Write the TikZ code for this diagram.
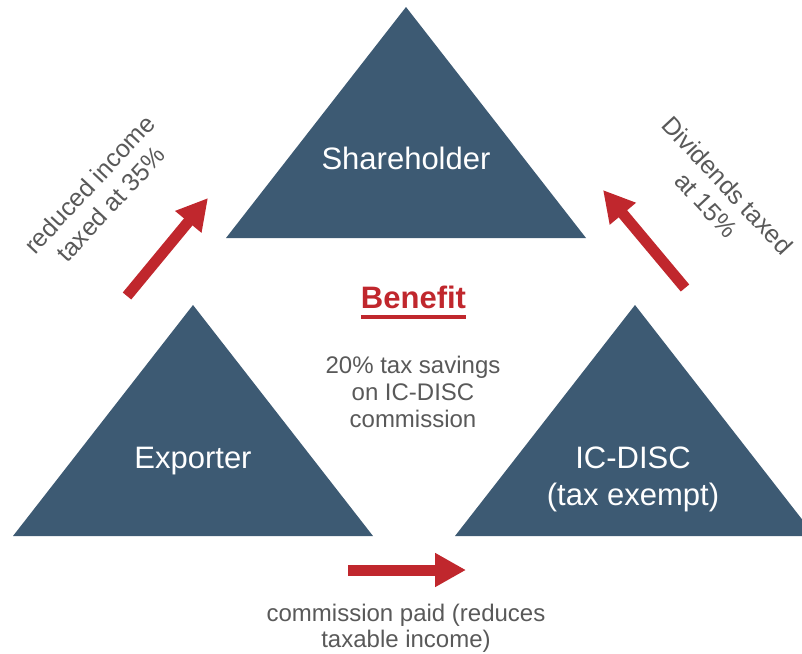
\documentclass[tikz,border=0pt]{standalone}
\usepackage{fontspec}
\setmainfont{Liberation Sans}
\usetikzlibrary{arrows.meta}
\definecolor{slate}{HTML}{3D5A73}
\definecolor{arrred}{HTML}{C0272D}
\definecolor{txtgrey}{HTML}{595959}
\tikzset{
  tri/.style={fill=slate, draw=none},
  trilabel/.style={text=white, font=\fontsize{31}{37}\selectfont, align=center, inner sep=0pt},
  note/.style={text=txtgrey, font=\fontsize{24}{27}\selectfont, align=center, inner sep=0pt},
  rotnote/.style={text=txtgrey, font=\fontsize{25}{29}\selectfont, align=center, inner sep=0pt},
  bigarrow/.style={draw=arrred, line width=11pt, -{Triangle[length=31pt,width=32pt]}},
}
\begin{document}
\begin{tikzpicture}[x=1pt,y=-1pt]
\useasboundingbox (0,0) rectangle (802,653);
\clip (0,0) rectangle (802,653);
% triangles
\coordinate (shA) at (406,7);
\coordinate (shL) at (226,238);
\coordinate (shR) at (586,238);
\coordinate (exA) at (193,305);
\coordinate (exL) at (13,536);
\coordinate (exR) at (373,536);
\coordinate (icA) at (635,305);
\coordinate (icL) at (455,536);
\coordinate (icR) at (815,536);
\fill[tri] (shA) -- (shL) -- (shR) -- cycle;
\fill[tri] (exA) -- (exL) -- (exR) -- cycle;
\fill[tri] (icA) -- (icL) -- (icR) -- cycle;
% labels (base anchor = baseline of last line)
\node[trilabel, anchor=base] (sh) at (406,169.5) {Shareholder};
\node[trilabel, anchor=base] (ex) at (193,468) {Exporter};
\node[trilabel, anchor=base] (ic) at (633,505) {IC-DISC\\(tax exempt)};
% benefit
\node[text=arrred, font=\bfseries\fontsize{31}{36}\selectfont, inner sep=0pt, anchor=base] (ben) at (413.5,308) {Benefit};
\draw[arrred, line width=3.2pt] ([yshift=-9pt]ben.base west) -- ([yshift=-9pt]ben.base east);
\node[note, anchor=base] (sav) at (413,427) {20\% tax savings\\on IC-DISC\\commission};
\node[note, font=\fontsize{24}{26}\selectfont, anchor=base] (com) at (406,647) {commission paid (reduces\\taxable income)};
% rotated notes
\node[rotnote, rotate=47] (red) at (100,194) {reduced income\\taxed at 35\%};
\node[rotnote, rotate=-47] (div) at (717,195) {Dividends taxed\\at 15\%};
% arrows
\coordinate (a1s) at (127,296);
\coordinate (a1e) at (208,198);
\coordinate (a2s) at (685,288);
\coordinate (a2e) at (603,190);
\coordinate (a3s) at (348,570);
\coordinate (a3e) at (466,570);
\draw[bigarrow] (a1s) -- (a1e);
\draw[bigarrow] (a2s) -- (a2e);
\draw[bigarrow] (a3s) -- (a3e);
\end{tikzpicture}
\end{document}
